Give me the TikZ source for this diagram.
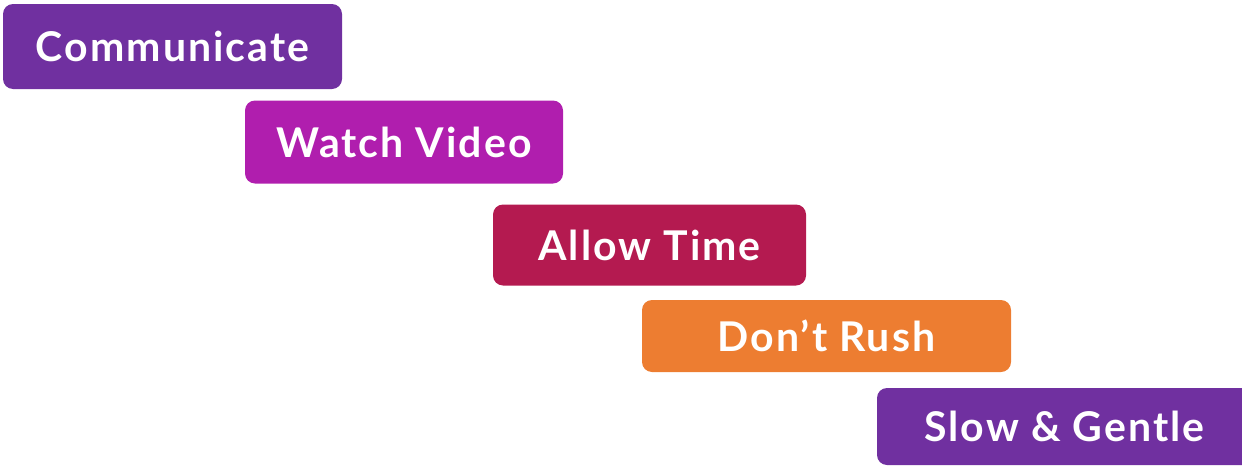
\documentclass[tikz,border=0pt]{standalone}
\usepackage{fontspec}
\setmainfont{Lato}[LetterSpace=5]
\definecolor{cpurple}{HTML}{7030A0}
\definecolor{cmagenta}{HTML}{B01EAE}
\definecolor{ccrimson}{HTML}{B41A50}
\definecolor{corange}{HTML}{ED7D31}
\tikzset{
  stepbox/.style={rectangle, rounded corners=10pt, inner sep=0pt, text=white,
    font=\fontsize{41}{48}\selectfont\bfseries}
}
\begin{document}
\begin{tikzpicture}[x=1pt,y=-1pt]
\useasboundingbox (0,0) rectangle (1242,466);
\node[stepbox, fill=cpurple, minimum width=339pt, minimum height=85pt] (comm) at (172.5,46.5) {Communicate};
\node[stepbox, fill=cmagenta, minimum width=318pt, minimum height=83pt] (watch) at (404,142) {Watch Video};
\node[stepbox, fill=ccrimson, minimum width=313pt, minimum height=81pt] (allow) at (649.5,245) {Allow Time};
\node[stepbox, fill=corange, minimum width=369pt, minimum height=72pt] (rush) at (826.5,336) {Don’t Rush};
\node[stepbox, fill=cpurple, minimum width=375pt, minimum height=77pt] (slow) at (1064.5,426.5) {Slow \& Gentle};
\end{tikzpicture}
\end{document}
